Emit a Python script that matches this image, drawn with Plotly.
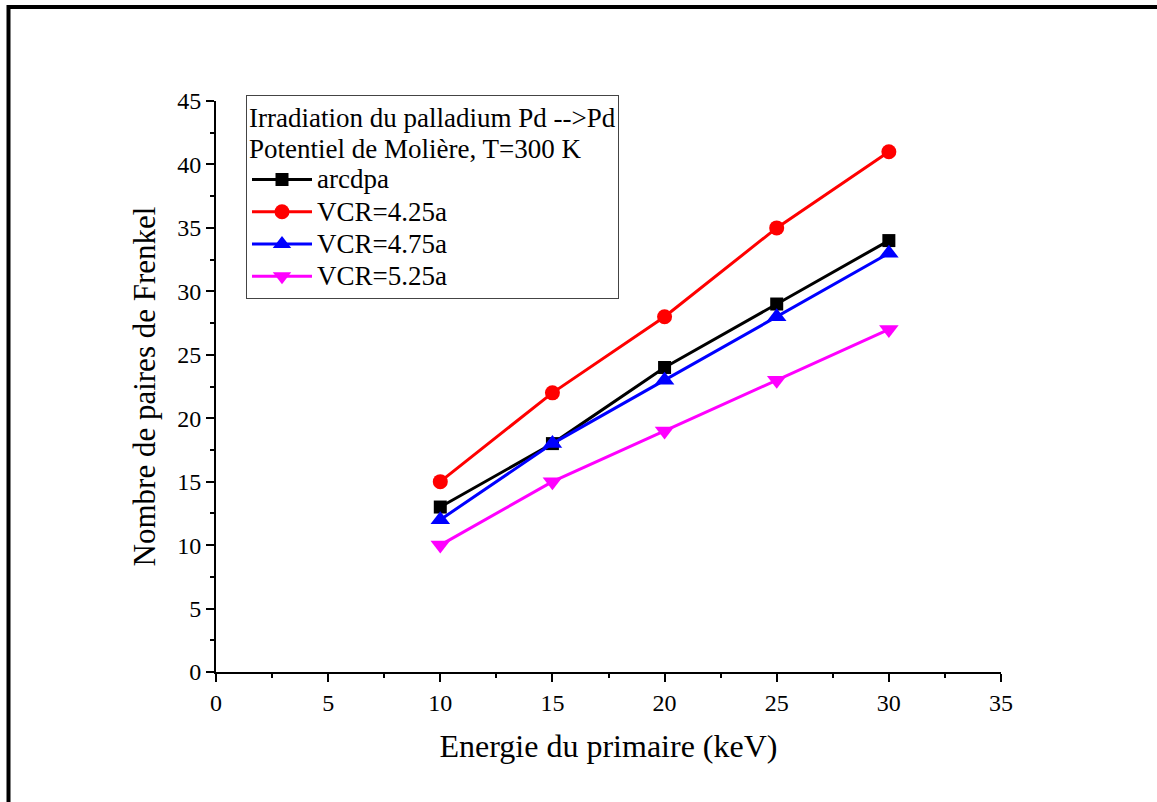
import plotly.graph_objects as go

energie = [10, 15, 20, 25, 30]
arcdpa = [13, 18, 24, 29, 34]
vcr_425 = [15, 22, 28, 35, 41]
vcr_475 = [12, 18, 23, 28, 33]
vcr_525 = [10, 15, 19, 23, 27]

series = [
    ("arcdpa", arcdpa, "black", "square", 13),
    ("VCR=4.25a", vcr_425, "red", "circle", 15),
    ("VCR=4.75a", vcr_475, "blue", "triangle-up", 17),
    ("VCR=5.25a", vcr_525, "magenta", "triangle-down", 17),
]

FONT = "Liberation Serif, Times New Roman, serif"
LEG_TXT = 27

def big(s):
    return "<span style='font-size:%dpx'>%s</span>" % (LEG_TXT, s)

fig = go.Figure()
for name, ys, col, sym, sz in series:
    fig.add_trace(go.Scatter(
        x=energie, y=ys, name=big(name), mode="lines+markers",
        line=dict(color=col, width=3),
        marker=dict(symbol=sym, size=sz, color=col, line=dict(width=0)),
    ))

W, H = 1157, 802
pw, ph = 785, 571
L = 216
T = 101
R = W - L - pw
B = H - T - ph

def px2paper_x(px):
    return (px - L) / pw

def px2paper_y(py):
    return (T + ph - py) / ph

fig.add_shape(type="rect", xref="paper", yref="paper",
              x0=px2paper_x(8.5), x1=px2paper_x(1185),
              y0=px2paper_y(830), y1=px2paper_y(7),
              line=dict(color="black", width=4), fillcolor="rgba(0,0,0,0)",
              layer="below")

axis_common = dict(
    showgrid=False, zeroline=False, showline=True, linecolor="black", linewidth=2,
    ticks="outside", ticklen=8, tickwidth=2, tickcolor="black",
    tickfont=dict(family=FONT, size=24, color="black"),
    minor=dict(ticks="outside", ticklen=4, tickwidth=2, tickcolor="black", dtick=2.5),
    dtick=5,
)

title_txt = big("Irradiation du palladium Pd -->Pd") + "<br>" + big("Potentiel de Molière, T=300 K")

fig.update_layout(
    width=W, height=H,
    margin=dict(l=L, r=R, t=T, b=B),
    paper_bgcolor="white", plot_bgcolor="white",
    font=dict(family=FONT, color="black"),
    xaxis=dict(range=[0, 35], title=dict(text="Energie du primaire (keV)",
               font=dict(family=FONT, size=32), standoff=20), **axis_common),
    yaxis=dict(range=[0, 45], title=dict(text="Nombre de paires de Frenkel",
               font=dict(family=FONT, size=31), standoff=12), **axis_common),
    legend=dict(
        x=px2paper_x(246), y=px2paper_y(95), xanchor="left", yanchor="top",
        bgcolor="white", bordercolor="#444", borderwidth=1,
        font=dict(family=FONT, size=22.5, color="black"),
        title=dict(text=title_txt,
                   font=dict(family=FONT, size=24, color="black"), side="top"),
        tracegroupgap=0, itemwidth=60,
    ),
    showlegend=True,
)

fig.write_html("out.html", post_script="document.body.style.margin='0';",
               config={"displayModeBar": False})
